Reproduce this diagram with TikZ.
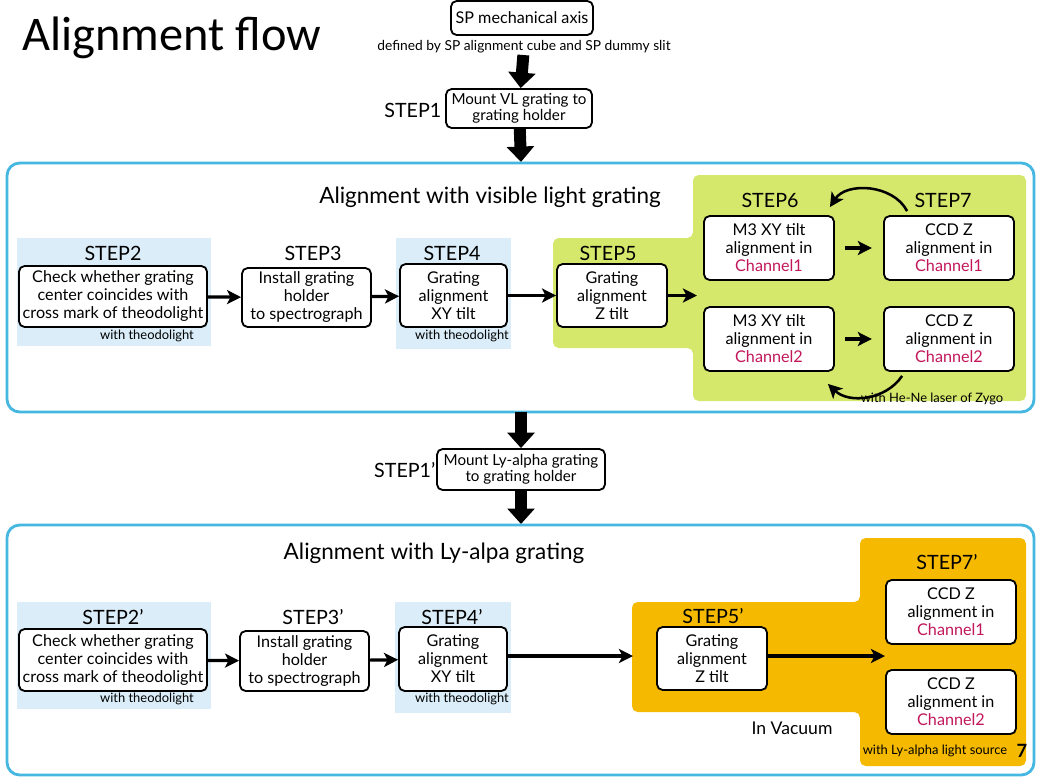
\documentclass[tikz,border=0pt]{standalone}
\usepackage{fontspec}
\setmainfont{Lato}
\newfontfamily\titlefont{Carlito}
\usetikzlibrary{arrows.meta,positioning,calc}
\definecolor{framecyan}{HTML}{45B7E0}
\definecolor{stepblue}{HTML}{DAEDF8}
\definecolor{stepgreen}{HTML}{D5E86C}
\definecolor{steporange}{HTML}{F5BA00}
\definecolor{chan}{HTML}{C2185B}

\begin{document}
\begin{tikzpicture}[x=0.025cm, y=-0.025cm,
    box/.style={draw, line width=1.3pt, rounded corners=4pt, fill=white, align=center, inner sep=1pt, font=\fontsize{11.5}{12.8}\selectfont},
    sz/.style 2 args={minimum width=#1*0.025cm, minimum height=#2*0.025cm},
    steplbl/.style={font=\fontsize{14}{16}\selectfont, inner sep=1pt},
    smallnote/.style={font=\fontsize{9.2}{10}\selectfont, inner sep=1pt},
    section/.style={font=\fontsize{16}{18}\selectfont},
    panel/.style={draw=framecyan, line width=2pt, rounded corners=9pt},
    arr/.style={-{Stealth[length=10pt,width=10pt,inset=2.5pt]}, line width=2.3pt},
    bigarr/.style={-{Triangle[length=11pt,width=19pt]}, line width=8.5pt}
]
\useasboundingbox (0,0) rectangle (1040,778);

\node[font=\titlefont\fontsize{34.4}{38}\selectfont, anchor=west, inner sep=0pt] (title) at (22,38) {Alignment flow};

% top part
\node[box, sz={142}{34}] (sp) at (522,18) {SP mechanical axis};
\node[smallnote, font=\fontsize{9.8}{10}\selectfont] (spnote) at (524,47) {defined by SP alignment cube and SP dummy slit};
\node[box, sz={146}{39}, font=\fontsize{10.8}{11.2}\selectfont] (step1) at (519,108.5) {Mount VL grating to\\grating holder};
\node[steplbl, anchor=east] (l1) at (443,110) {STEP1};
\coordinate (f1top) at (521,162);
\draw[bigarr] (spnote) -- (step1);
\draw[bigarr] (step1) -- (f1top);

% visible light grating
\fill[stepblue] (17,238) rectangle (211,346);
\fill[stepblue] (396,238) rectangle (511,349);
\fill[stepgreen, rounded corners=4pt] (553,238) -- (693,238) -- (693,175) -- (1026,175) -- (1026,401) -- (693,401) -- (693,348) -- (553,348) -- cycle;
\draw[panel] (7,163) rectangle (1034,412);
\node[section] (h1) at (490,197) {Alignment with visible light grating};

\node[box, sz={188}{61}] (s2) at (113,296.5) {Check whether grating\\center coincides with\\cross mark of theodolight};
\node[box, sz={129}{59}] (s3) at (306.5,297.5) {Install grating\\holder\\to spectrograph};
\node[box, sz={107}{63}] (s4) at (453.5,295.5) {Grating\\alignment\\XY tilt};
\node[box, sz={110}{63}] (s5) at (612,295.5) {Grating\\alignment\\Z tilt};
\node[box, sz={130}{64}] (s6a) at (769,248) {M3 XY tilt\\alignment in\\\textcolor{chan}{Channel1}};
\node[box, sz={130}{64}] (s7a) at (949,248) {CCD Z\\alignment in\\\textcolor{chan}{Channel1}};
\node[box, sz={130}{64}] (s6b) at (769,339) {M3 XY tilt\\alignment in\\\textcolor{chan}{Channel2}};
\node[box, sz={130}{64}] (s7b) at (949,339) {CCD Z\\alignment in\\\textcolor{chan}{Channel2}};

\node[steplbl] (l2) at (113,253) {STEP2};
\node[steplbl] (l3) at (313,253) {STEP3};
\node[steplbl] (l4) at (452,253) {STEP4};
\node[steplbl] (l5) at (608,253) {STEP5};
\node[steplbl] (l6) at (770,200) {STEP6};
\node[steplbl] (l7) at (943,200) {STEP7};
\node[smallnote] (n2) at (147,336) {with theodolight};
\node[smallnote] (n4) at (462,336) {with theodolight};
\node[smallnote] (nzygo) at (932,399) {with He-Ne laser of Zygo};

\coordinate (c5) at (697,295.5);
\draw[arr] (s2) -- (s3);
\draw[arr] (s3) -- (s4);
\draw[arr] (s4) -- (s5);
\draw[arr] (s5) -- (c5);
\draw[arr, shorten <=7pt, shorten >=8pt] (s6a) -- (s7a);
\draw[arr, shorten <=7pt, shorten >=8pt] (s6b) -- (s7b);
\draw[arr, line width=1.8pt] ([shift={(24,-4)}]s7a.north west) to[bend right=60] ([shift={(-5,-8)}]s6a.north east);
\draw[arr, line width=1.8pt] ([shift={(19,4)}]s7b.south west) to[bend left=50] ([shift={(-7,12)}]s6b.south east);

% middle
\coordinate (f1bot) at (521,412);
\node[box, sz={168}{41}, font=\fontsize{10.8}{11.2}\selectfont] (step1p) at (521,469.5) {Mount Ly-alpha grating\\to grating holder};
\node[steplbl, anchor=east] (l1p) at (437,470) {STEP1'};
\coordinate (f2top) at (521,524);
\draw[bigarr] (f1bot) -- (step1p);
\draw[bigarr] (step1p) -- (f2top);

% Ly-alpha grating
\fill[stepblue] (17,602) rectangle (211,709);
\fill[stepblue] (395,602) rectangle (511,713);
\fill[steporange, rounded corners=4pt] (632,602) -- (860,602) -- (860,538) -- (1026,538) -- (1026,766) -- (860,766) -- (860,712) -- (632,712) -- cycle;
\draw[panel] (7,525) rectangle (1034,775);
\node[section] (h2) at (434,553) {Alignment with Ly-alpa grating};

\node[box, sz={188}{62}] (s2p) at (113,660) {Check whether grating\\center coincides with\\cross mark of theodolight};
\node[box, sz={129}{60}] (s3p) at (304.5,661) {Install grating\\holder\\to spectrograph};
\node[box, sz={108}{64}] (s4p) at (453,659) {Grating\\alignment\\XY tilt};
\node[box, sz={110}{63}] (s5p) at (712,658.5) {Grating\\alignment\\Z tilt};
\node[box, sz={130}{64}] (s7ap) at (951,612) {CCD Z\\alignment in\\\textcolor{chan}{Channel1}};
\node[box, sz={130}{64}] (s7bp) at (951,702) {CCD Z\\alignment in\\\textcolor{chan}{Channel2}};

\node[steplbl] (l2p) at (113,617) {STEP2'};
\node[steplbl] (l3p) at (313,617) {STEP3'};
\node[steplbl] (l4p) at (452,617) {STEP4'};
\node[steplbl] (l5p) at (713,616) {STEP5'};
\node[steplbl] (l7p) at (947,562) {STEP7'};
\node[smallnote] (n2p) at (147,699) {with theodolight};
\node[smallnote] (n4p) at (462,699) {with theodolight};
\node[font=\fontsize{12.5}{14}\selectfont] (vac) at (792,728) {In Vacuum};
\node[smallnote] (nly) at (935,751) {with Ly-alpha light source};
\node[font=\bfseries\fontsize{13}{15}\selectfont, inner sep=0pt] (pg) at (1022,751) {7};

\coordinate (c4p) at (633,656);
\coordinate (c5p) at (885,656);
\draw[arr] (s2p) -- (s3p);
\draw[arr] (s3p) -- (s4p);
\draw[arr] (s4p.east |- c4p) -- (c4p);
\draw[arr] (s5p.east |- c5p) -- (c5p);
\end{tikzpicture}
\end{document}
